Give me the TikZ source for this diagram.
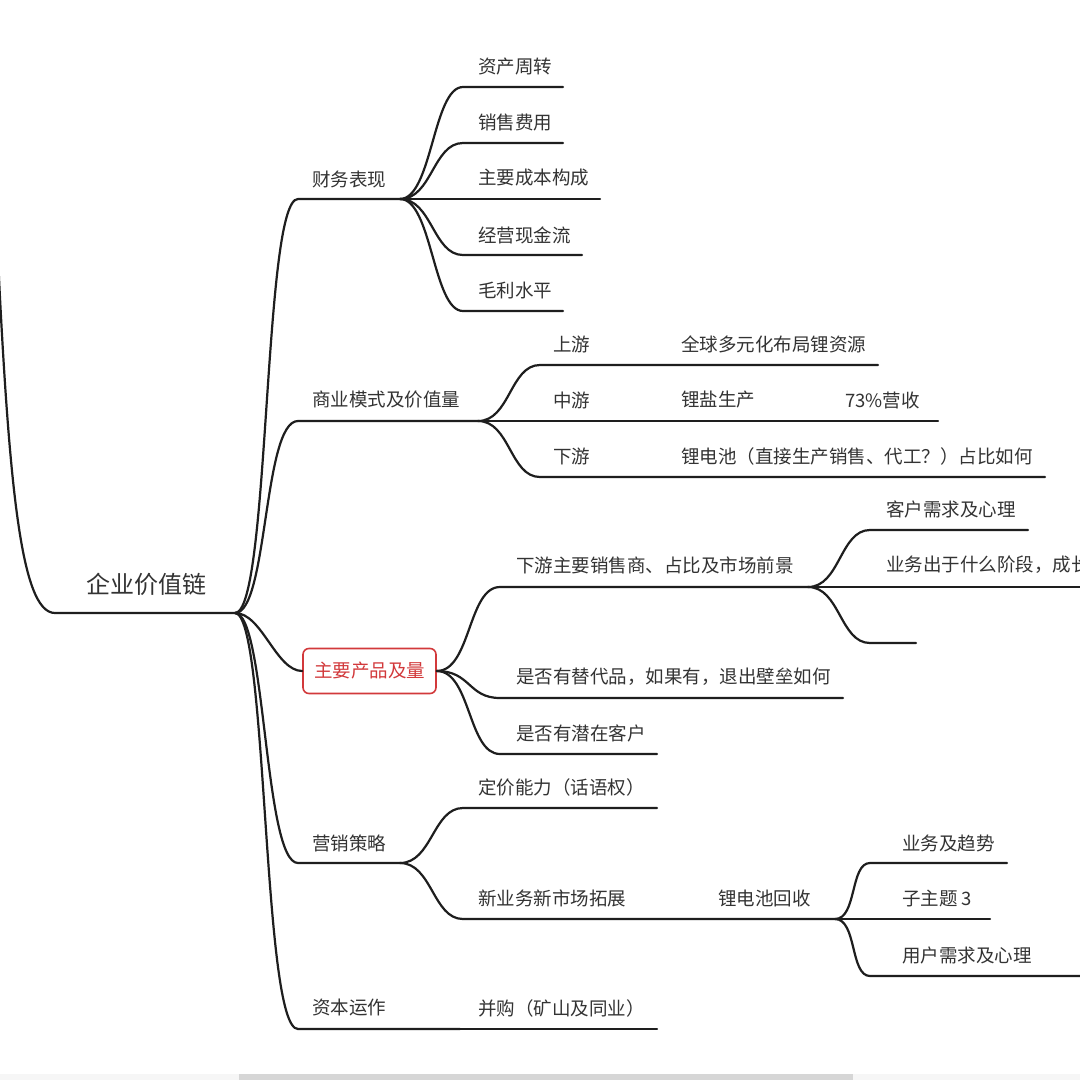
\documentclass[tikz,border=0pt]{standalone}
\usepackage{fontspec}
\setmainfont{Noto Sans CJK SC}
\definecolor{txt}{HTML}{333333}
\definecolor{ln}{HTML}{1E1E1E}
\definecolor{redc}{HTML}{D2393B}
\definecolor{barl}{HTML}{F6F6F6}
\definecolor{bard}{HTML}{D6D6D6}
\tikzset{
  lbl/.style={inner sep=0pt, anchor=west, text=txt, font=\fontsize{18.5}{20}\selectfont},
  br/.style={draw=ln, line width=2.2pt, line cap=round},
}
\begin{document}
\begin{tikzpicture}[x=1pt,y=-1pt]
\useasboundingbox (0,0) rectangle (1080,1080);
\clip (0,0) rectangle (1080,1080);
\fill[white] (0,0) rectangle (1080,1080);
% scroll bar
\fill[barl] (0,1074) rectangle (1080,1080);
\fill[bard] (239,1074) rectangle (853,1080);

% root
\node[inner sep=0pt, text=txt, font=\fontsize{24}{26}\selectfont] (root) at (146,584) {企业价值链};
\coordinate (rootin) at (-4,215);
\coordinate (roots) at (55,613);
\coordinate (hub) at (235,613);
\draw[br] (rootin) .. controls (8,480) and (20,613) .. (roots) -- (hub);

% level 1
\node[lbl] (cw) at (312,179) {财务表现};
\coordinate (cws) at (298,199); \coordinate (cwh) at (400,199);
\draw[br] (hub) .. controls (270,613) and (263,199) .. (cws) -- (cwh);

\node[lbl] (sy) at (312,399) {商业模式及价值量};
\coordinate (sys) at (298,421); \coordinate (syh) at (478,421);
\draw[br] (hub) .. controls (268,613) and (263,421) .. (sys) -- (syh);

\node[draw=redc, line width=1.6pt, rounded corners=6pt, minimum width=133pt, minimum height=45pt, inner sep=0pt, text=redc, font=\fontsize{18.5}{20}\selectfont] (cp) at (369.5,671) {主要产品及量};
\draw[br] (hub) .. controls (262,613) and (276,671) .. (cp.west);

\node[lbl] (yx) at (312,843) {营销策略};
\coordinate (yxs) at (298,863); \coordinate (yxh) at (400,863);
\draw[br] (hub) .. controls (266,613) and (264,863) .. (yxs) -- (yxh);

\node[lbl] (zb) at (312,1008) {资本运作};
\coordinate (zbs) at (298,1029); \coordinate (zbh) at (460,1029);
\draw[br] (hub) .. controls (268,613) and (262,1029) .. (zbs) -- (zbh);

% 财务表现 children
\node[lbl] (c1) at (478,67) {资产周转};
\node[lbl] (c2) at (478,122) {销售费用};
\node[lbl] (c3) at (478,178) {主要成本构成};
\node[lbl] (c4) at (478,235) {经营现金流};
\node[lbl] (c5) at (478,290) {毛利水平};
\coordinate (c1s) at (463,87);  \coordinate (c1e) at (563,87);
\coordinate (c2s) at (463,143); \coordinate (c2e) at (563,143);
\coordinate (c3e) at (600,199);
\coordinate (c4s) at (463,255); \coordinate (c4e) at (582,255);
\coordinate (c5s) at (463,311); \coordinate (c5e) at (563,311);
\draw[br] (cwh) .. controls +(32,0) and +(-30,0) .. (c1s) -- (c1e);
\draw[br] (cwh) .. controls +(32,0) and +(-30,0) .. (c2s) -- (c2e);
\draw[br] (cwh) -- (c3e);
\draw[br] (cwh) .. controls +(32,0) and +(-30,0) .. (c4s) -- (c4e);
\draw[br] (cwh) .. controls +(32,0) and +(-30,0) .. (c5s) -- (c5e);

% 商业模式 children
\node[lbl] (s1) at (553,344) {上游};
\node[lbl] (s1a) at (681,344) {全球多元化布局锂资源};
\node[lbl] (s2) at (553,400) {中游};
\node[lbl] (s2a) at (681,400) {锂盐生产};
\node[lbl] (s2b) at (845,400) {73\%营收};
\node[lbl] (s3) at (553,456) {下游};
\node[lbl] (s3a) at (681,456) {锂电池（直接生产销售、代工？）占比如何};
\coordinate (s1s) at (540,365); \coordinate (s1e) at (878,365);
\coordinate (s2e) at (938,421);
\coordinate (s3s) at (540,477); \coordinate (s3e) at (1045,477);
\draw[br] (syh) .. controls +(32,0) and +(-30,0) .. (s1s) -- (s1e);
\draw[br] (syh) -- (s2e);
\draw[br] (syh) .. controls +(32,0) and +(-30,0) .. (s3s) -- (s3e);

% 主要产品及量 children
\node[lbl] (p1) at (516,565) {下游主要销售商、占比及市场前景};
\node[lbl] (p2) at (516,677) {是否有替代品，如果有，退出壁垒如何};
\node[lbl] (p3) at (516,733) {是否有潜在客户};
\coordinate (p1s) at (500,587); \coordinate (p1h) at (808,587);
\coordinate (p2s) at (500,698); \coordinate (p2e) at (843,698);
\coordinate (p3s) at (500,754); \coordinate (p3e) at (657,754);
\draw[br] (cp.east) .. controls +(34,0) and +(-32,0) .. (p1s) -- (p1h);
\draw[br] (cp.east) .. controls +(34,0) and +(-32,0) .. (p2s) -- (p2e);
\draw[br] (cp.east) .. controls +(34,0) and +(-32,0) .. (p3s) -- (p3e);

\node[lbl] (q1) at (886,509) {客户需求及心理};
\node[lbl] (q2) at (886,565) {业务出于什么阶段，成长};
\coordinate (q1s) at (870,530); \coordinate (q1e) at (1028,530);
\coordinate (q2e) at (1090,587);
\coordinate (q3s) at (870,643); \coordinate (q3e) at (916,643);
\draw[br] (p1h) .. controls +(32,0) and +(-30,0) .. (q1s) -- (q1e);
\draw[br] (p1h) -- (q2e);
\draw[br] (p1h) .. controls +(32,0) and +(-30,0) .. (q3s) -- (q3e);

% 营销策略 children
\node[lbl] (m1) at (478,787) {定价能力（话语权）};
\node[lbl] (m2) at (478,898) {新业务新市场拓展};
\node[lbl] (m3) at (718,898) {锂电池回收};
\coordinate (m1s) at (463,808); \coordinate (m1e) at (657,808);
\coordinate (m2s) at (463,919); \coordinate (m3h) at (835,919);
\draw[br] (yxh) .. controls +(32,0) and +(-30,0) .. (m1s) -- (m1e);
\draw[br] (yxh) .. controls +(32,0) and +(-30,0) .. (m2s) -- (m3h);

\node[lbl] (n1) at (902,843) {业务及趋势};
\node[lbl] (n2) at (902,898) {子主题 3};
\node[lbl] (n3) at (902,955) {用户需求及心理};
\coordinate (n1s) at (870,863); \coordinate (n1e) at (1007,863);
\coordinate (n2e) at (990,919);
\coordinate (n3s) at (870,976); \coordinate (n3e) at (1090,976);
\draw[br] (m3h) .. controls +(22,0) and +(-20,0) .. (n1s) -- (n1e);
\draw[br] (m3h) -- (n2e);
\draw[br] (m3h) .. controls +(22,0) and +(-20,0) .. (n3s) -- (n3e);

% 资本运作 child
\node[lbl] (z1) at (478,1008) {并购（矿山及同业）};
\coordinate (z1e) at (657,1029);
\draw[br] (zbh) -- (z1e);
\end{tikzpicture}
\end{document}
